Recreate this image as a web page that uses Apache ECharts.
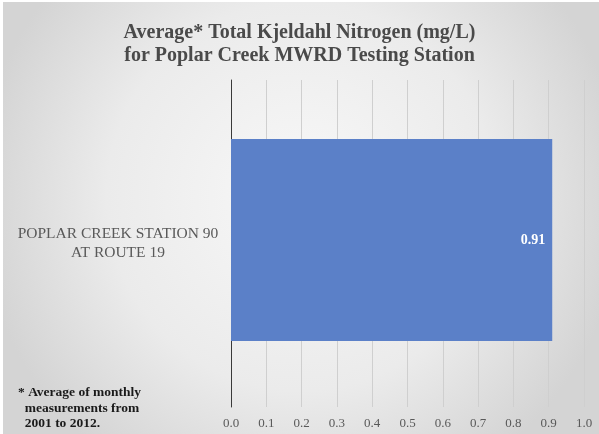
<!DOCTYPE html>
<html>
<head>
<meta charset="utf-8">
<script src="https://cdn.jsdelivr.net/npm/echarts@6/dist/echarts.min.js"></script>
<style>
  html, body { margin: 0; padding: 0; background: #ffffff; }
  #chart { width: 599px; height: 434px; }
</style>
</head>
<body>
<div id="chart"></div>
<script>
// Station names and their average TKN concentration (mg/L)
const stations = ['POPLAR CREEK STATION 90\nAT ROUTE 19'];
const tknValues = [0.91];
const axisMin = 0;
const axisMax = 1.0;
const axisStep = 0.1;

const titleText = 'Average* Total Kjeldahl Nitrogen (mg/L)\nfor Poplar Creek MWRD Testing Station';
const footnoteText = '* Average of monthly\n  measurements from\n  2001 to 2012.';

const serif = '"Liberation Serif", "Times New Roman", serif';

const chart = echarts.init(document.getElementById('chart'), null, { renderer: 'canvas' });

chart.setOption({
  animation: false,
  backgroundColor: '#ffffff',
  graphic: [
    {
      type: 'rect',
      z: -10,
      silent: true,
      shape: { x: 3, y: 2, width: 596, height: 432 },
      style: {
        fill: {
          type: 'radial', x: 0.5, y: 0.45, r: 0.75,
          colorStops: [
            { offset: 0, color: '#f8f8f8' },
            { offset: 0.6, color: '#ebebeb' },
            { offset: 1, color: '#d4d4d4' }
          ]
        }
      }
    },
    {
      type: 'text',
      left: 18,
      top: 385,
      style: {
        text: footnoteText,
        font: 'bold 13.5px ' + serif,
        fill: '#1a1a1a',
        lineHeight: 15.5
      }
    }
  ],
  title: {
    text: titleText,
    left: 'center',
    top: 16,
    textStyle: {
      fontFamily: serif,
      fontWeight: 'bold',
      fontSize: 20,
      color: '#4a4a4a',
      lineHeight: 23
    }
  },
  grid: { left: 231, right: 15, top: 80, bottom: 27, containLabel: false },
  xAxis: {
    type: 'value',
    min: axisMin,
    max: axisMax,
    interval: axisStep,
    axisLine: { show: false },
    axisTick: { show: false },
    axisLabel: {
      margin: 10,
      fontFamily: serif,
      fontSize: 13,
      color: '#595959',
      formatter: v => v.toFixed(1)
    },
    splitLine: { show: true, lineStyle: { color: '#cfcfcf', width: 1 } }
  },
  yAxis: {
    type: 'category',
    data: stations,
    axisLine: { show: true, lineStyle: { color: '#3a3a3a', width: 1 } },
    axisTick: { show: false },
    axisLabel: {
      margin: 113,
      fontFamily: serif,
      fontSize: 15.5,
      color: '#595959',
      lineHeight: 19,
      align: 'center',
      padding: [0, 0, 6, 0]
    }
  },
  series: [
    {
      type: 'bar',
      data: tknValues,
      barWidth: 202,
      barGap: 0,
      itemStyle: { color: '#5b80c8' },
      label: {
        show: true,
        position: 'insideRight',
        offset: [-2, 0],
        fontFamily: serif,
        fontWeight: 'bold',
        fontSize: 14,
        color: '#ffffff',
        formatter: p => p.value.toFixed(2)
      }
    },
    {
      // empty spacer slot that nudges the bar within its band
      type: 'bar',
      data: [null],
      barWidth: 7,
      silent: true
    }
  ]
});
</script>
</body>
</html>
